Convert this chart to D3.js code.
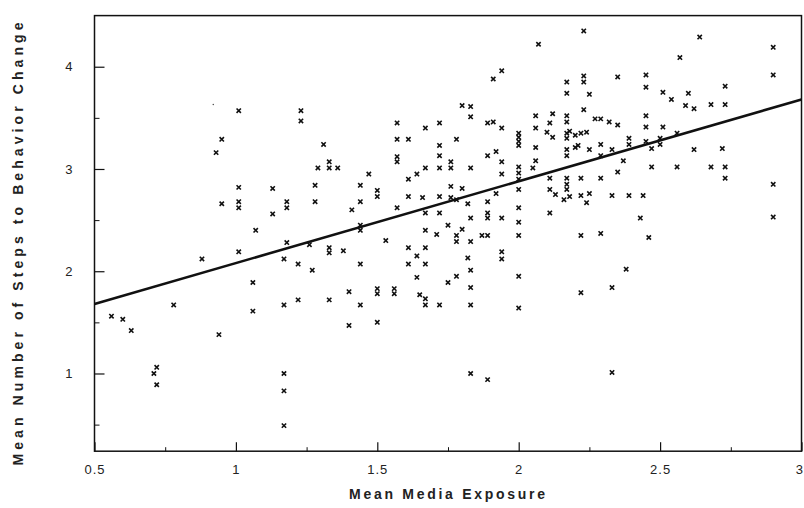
<!DOCTYPE html>
<html><head><meta charset="utf-8">
<script src="https://cdn.jsdelivr.net/npm/d3@7"></script>
<style>body{margin:0;background:#fff}svg{display:block}</style>
</head><body><svg id="c" width="804" height="508"></svg>
<script>
const mediaExposure = [1.01,1.23,1.23,0.95,0.93,1.31,1.33,1.29,1.33,1.36,1.01,1.13,1.28,0.95,1.01,1.01,1.18,1.18,1.28,1.13,1.07,1.18,0.88,1.01,1.17,1.22,1.27,1.33,1.33,1.06,1.26,0.56,0.60,0.63,0.78,1.06,1.17,1.22,1.33,0.94,0.72,0.71,0.72,1.17,1.17,1.17,
1.47,1.44,1.50,1.44,1.50,1.41,1.44,1.44,1.53,1.57,1.57,1.57,1.57,1.61,1.57,1.61,1.64,1.61,1.66,1.67,1.67,1.67,1.67,1.71,1.72,1.72,1.72,1.72,1.72,1.72,1.76,1.76,1.76,1.76,1.78,1.75,1.78,1.78,1.80,1.83,1.83,1.80,1.80,1.83,1.82,1.83,1.83,1.78,1.89,1.91,1.94,1.91,1.94,2.07,1.89,1.92,1.94,1.94,1.89,1.92,1.89,1.89,1.94,1.89,1.87,2.00,2.00,2.00,2.00,2.00,2.00,2.00,2.00,2.00,2.00,2.00,2.06,2.06,2.06,2.06,2.05,2.11,2.12,2.10,2.12,2.11,2.11,2.13,2.11,
1.38,1.44,1.40,1.44,1.40,1.50,1.50,1.56,1.56,1.50,1.61,1.61,1.64,1.67,1.67,1.64,1.65,1.67,1.67,1.72,1.82,1.78,1.75,1.83,1.83,1.83,1.94,1.94,2.00,2.00,1.83,1.89,
2.23,2.64,2.90,2.57,2.23,2.23,2.35,2.45,2.45,2.17,2.17,2.25,2.90,2.73,2.51,2.54,2.60,2.59,2.62,2.68,2.73,2.17,2.23,2.17,2.27,2.29,2.32,2.35,2.45,2.45,2.51,2.17,2.18,2.17,2.20,2.22,2.24,2.17,2.20,2.21,2.25,2.29,2.17,2.29,2.33,2.39,2.39,2.45,2.47,2.50,2.50,2.56,2.37,2.35,2.47,2.56,2.62,2.68,2.72,2.73,2.73,2.17,2.17,2.17,2.22,2.29,2.16,2.18,2.22,2.25,2.24,2.33,2.39,2.44,2.43,2.90,2.90,2.22,2.29,2.46,2.38,2.22,2.33,2.33];
const stepsToChange = [3.57,3.57,3.47,3.29,3.16,3.24,3.07,3.01,3.01,3.01,2.82,2.81,2.84,2.66,2.68,2.62,2.68,2.62,2.68,2.56,2.40,2.28,2.12,2.19,2.12,2.07,2.01,2.23,2.18,1.89,2.26,1.56,1.53,1.42,1.67,1.61,1.67,1.72,1.72,1.38,1.06,1.00,0.89,1.00,0.83,0.49,
2.95,2.84,2.79,2.68,2.73,2.60,2.45,2.40,2.30,3.45,3.29,3.12,3.07,3.29,2.62,2.90,2.95,2.73,2.72,3.40,3.01,2.57,2.40,2.36,3.45,3.23,3.13,3.01,2.73,2.57,3.07,3.01,2.83,2.72,3.29,2.45,2.35,2.29,3.62,3.61,3.51,2.81,2.41,3.01,2.66,2.52,2.29,2.70,3.45,3.46,3.40,3.88,3.96,4.22,3.13,3.17,3.07,2.95,2.68,2.76,2.57,2.52,2.52,2.35,2.35,3.35,3.31,3.27,3.23,3.02,2.96,2.90,2.80,2.62,2.48,2.35,3.52,3.40,3.21,3.08,3.01,3.45,3.54,3.36,3.31,2.91,2.80,2.75,2.57,
2.20,2.07,1.80,1.67,1.47,1.83,1.78,1.83,1.78,1.50,2.23,2.07,2.15,2.23,2.07,1.94,1.77,1.73,1.67,1.67,2.13,1.95,1.89,2.01,1.84,1.67,2.19,2.12,1.95,1.64,1.00,0.94,
4.35,4.29,4.19,4.09,3.91,3.85,3.90,3.92,3.80,3.85,3.74,3.73,3.92,3.81,3.75,3.68,3.74,3.62,3.59,3.63,3.63,3.52,3.58,3.46,3.49,3.49,3.46,3.43,3.52,3.41,3.41,3.35,3.37,3.30,3.33,3.35,3.36,3.19,3.21,3.23,3.19,3.24,3.13,3.13,3.19,3.30,3.24,3.27,3.20,3.30,3.24,3.35,3.08,2.97,3.02,3.02,3.19,3.02,3.20,3.02,2.91,2.91,2.85,2.80,2.91,2.91,2.70,2.73,2.74,2.76,2.67,2.74,2.74,2.74,2.52,2.85,2.53,2.35,2.37,2.33,2.02,1.79,1.84,1.01];
// one faint, dot-sized mark in the reference
const faintX = [0.92];
const faintY = [3.63];
const fitX = [0.5, 3];
const fitY = [1.68, 3.68];
const xTicks = [0.5, 1, 1.5, 2, 2.5, 3];
const xTickLabels = ["0.5", "1", "1.5", "2", "2.5", "3"];
const yTicks = [1, 2, 3, 4];
const yTickLabels = ["1", "2", "3", "4"];
const xMinor = [0.75, 1.25, 1.75, 2.25, 2.75];
const yMinor = [0.5, 1.5, 2.5, 3.5];

const svg = d3.select("#c");
const L = 94.5, R = 801.5, T = 15.6, B = 451.2;
const x = d3.scaleLinear().domain([0.5, 3]).range([L, R]);
const y = d3.scaleLinear().domain([0.24, 4.5]).range([B, T]);
const font = "'Liberation Sans', Arial, sans-serif";

// frame
svg.append("rect").attr("x", L).attr("y", T).attr("width", R - L).attr("height", B - T)
  .attr("fill", "none").attr("stroke", "#111").attr("stroke-width", 1.5);

// x axis ticks (inward)
const gx = svg.append("g").attr("transform", `translate(0,${B})`)
  .call(d3.axisBottom(x).tickValues(xTicks).tickSize(-9).tickFormat((d, i) => xTickLabels[i]).tickPadding(14));
gx.select(".domain").remove();
gx.selectAll("line").attr("stroke", "#111").attr("stroke-width", 1.2);
gx.selectAll("text").attr("font-family", font).attr("font-size", 13).attr("fill", "#222").attr("letter-spacing", "1px");
gx.selectAll(".tick").filter(d => d === 3).select("text").attr("text-anchor", "end").attr("x", 1).attr("letter-spacing", "0px");
const gxm = svg.append("g").attr("transform", `translate(0,${B})`)
  .call(d3.axisBottom(x).tickValues(xMinor).tickSize(-4).tickFormat(""));
gxm.select(".domain").remove();
gxm.selectAll("line").attr("stroke", "#111");

// y axis ticks (inward)
const gy = svg.append("g").attr("transform", `translate(${L},0)`)
  .call(d3.axisLeft(y).tickValues(yTicks).tickSize(-10).tickFormat((d, i) => yTickLabels[i]).tickPadding(22));
gy.select(".domain").remove();
gy.selectAll("line").attr("stroke", "#111").attr("stroke-width", 1.2);
gy.selectAll("text").attr("font-family", font).attr("font-size", 13).attr("fill", "#222");
const gym = svg.append("g").attr("transform", `translate(${L},0)`)
  .call(d3.axisLeft(y).tickValues(yMinor).tickSize(-5).tickFormat(""));
gym.select(".domain").remove();
gym.selectAll("line").attr("stroke", "#111");

// points
const pts = mediaExposure.map((v, i) => [v, stepsToChange[i]]);
const sym = d3.symbol().type(d3.symbolTimes).size(14);
svg.append("g").selectAll("path").data(pts).join("path")
  .attr("transform", d => `translate(${x(d[0])},${y(d[1])})`)
  .attr("d", sym).attr("stroke", "#111").attr("stroke-width", 1.6).attr("fill", "none");
svg.append("g").selectAll("circle").data(faintX.map((v, i) => [v, faintY[i]])).join("circle")
  .attr("cx", d => x(d[0])).attr("cy", d => y(d[1])).attr("r", 0.8).attr("fill", "#555");

// regression line
svg.append("path").datum(fitX.map((v, i) => [v, fitY[i]]))
  .attr("d", d3.line().x(d => x(d[0])).y(d => y(d[1])))
  .attr("stroke", "#111").attr("stroke-width", 2.6).attr("fill", "none");

// axis titles
svg.append("text").attr("x", 447).attr("y", 499).attr("text-anchor", "middle")
  .attr("font-family", font).attr("font-size", 14).attr("font-weight", "bold").attr("fill", "#222")
  .attr("textLength", 196).attr("lengthAdjust", "spacing").text("Mean Media Exposure");
svg.append("text").attr("transform", "translate(23,244) rotate(-90)").attr("text-anchor", "middle")
  .attr("font-family", font).attr("font-size", 14).attr("font-weight", "bold").attr("fill", "#222")
  .attr("textLength", 443).attr("lengthAdjust", "spacing").text("Mean Number of Steps to Behavior Change");
</script></body></html>
